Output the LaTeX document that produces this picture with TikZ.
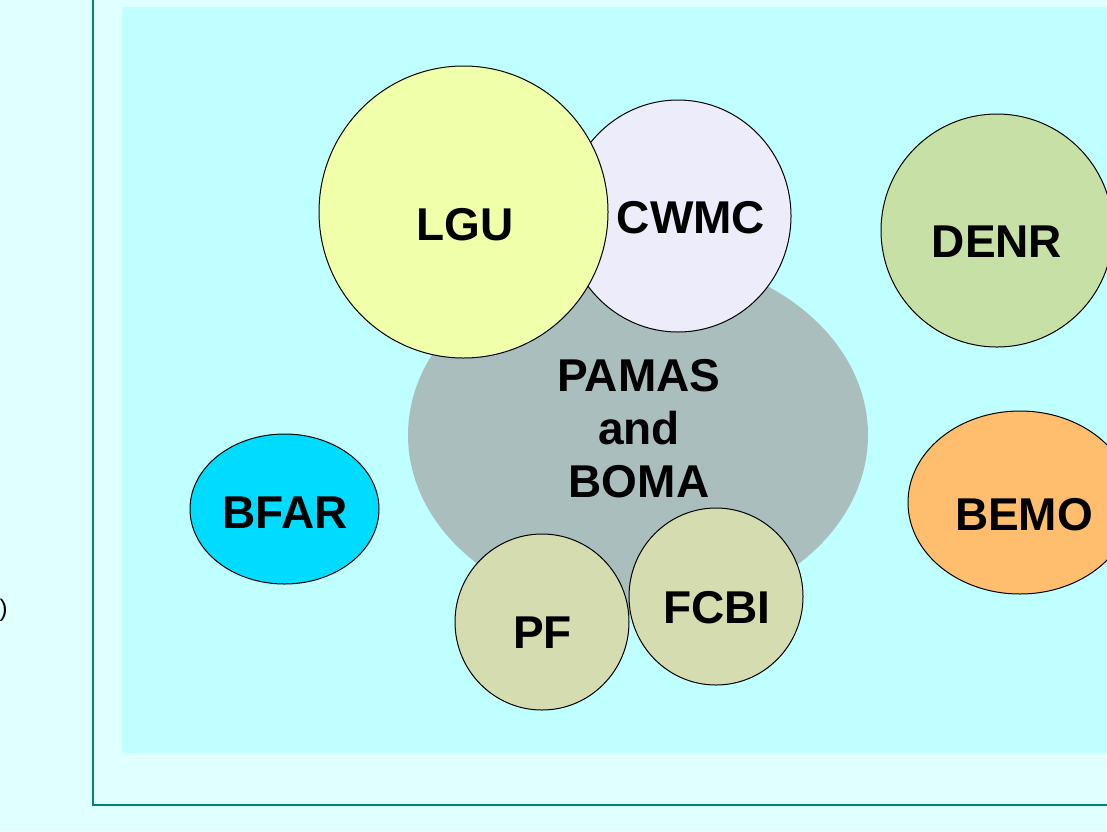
\documentclass[tikz,border=0pt]{standalone}
\usepackage{fontspec}
\setmainfont{Liberation Sans}
\usetikzlibrary{shapes.geometric}
\definecolor{outerbg}{RGB}{224,255,255}
\definecolor{innerbg}{RGB}{192,255,255}
\definecolor{frameteal}{RGB}{0,128,128}
\definecolor{lgucol}{RGB}{240,255,170}
\definecolor{cwmccol}{RGB}{236,236,250}
\definecolor{pamascol}{RGB}{170,190,190}
\definecolor{denrcol}{RGB}{198,224,166}
\definecolor{bemocol}{RGB}{255,190,110}
\definecolor{bfarcol}{RGB}{0,220,255}
\definecolor{pfcol}{RGB}{212,220,176}
\tikzset{
  blob/.style={ellipse, draw=black, line width=1pt, inner sep=0pt, outer sep=0pt},
  lab/.style={inner sep=0pt, anchor=base, font=\bfseries\fontsize{46}{53}\selectfont},
}
\begin{document}
\begin{tikzpicture}[x=1pt,y=-1pt]
  \fill[outerbg] (0,0) rectangle (1107,831);
  \useasboundingbox (0,0) rectangle (1107,831);
  \fill[innerbg] (122,7) rectangle (1107,753);
  \coordinate (ftop) at (93.2,0);
  \coordinate (fcorner) at (93.2,805);
  \coordinate (fright) at (1107,805);
  \draw[frameteal, line width=2.5pt] (ftop) -- (fcorner) -- (fright);
  \node[inner sep=0pt, anchor=center, font=\fontsize{24}{28}\selectfont] (paren) at (3.5,610) {)};
  % central body
  \node[ellipse, fill=pamascol, inner sep=0pt, minimum width=460, minimum height=360] (pamas) at (638,435) {};
  \node[blob, fill=cwmccol, minimum width=226, minimum height=232] (cwmc) at (678,216) {};
  \node[blob, fill=lgucol, minimum width=289, minimum height=292] (lgu) at (463.5,212) {};
  \node[blob, fill=pfcol, minimum width=174, minimum height=176] (pf) at (542,622) {};
  \node[blob, fill=pfcol, minimum width=174, minimum height=177] (fcbi) at (716,596.5) {};
  \node[blob, fill=denrcol, minimum width=232, minimum height=233] (denr) at (997,230.5) {};
  \node[blob, fill=bemocol, minimum width=224, minimum height=183] (bemo) at (1020,502.5) {};
  \node[blob, fill=bfarcol, minimum width=189, minimum height=150] (bfar) at (284.5,509) {};
  % labels
  \node[lab] (lgut) at (465,240) {LGU};
  \node[lab] (cwmct) at (691,233) {CWMC};
  \node[lab] (denrt) at (997,257) {DENR};
  \node[lab] (bemot) at (1024,530) {BEMO};
  \node[lab] (bfart) at (285,528) {BFAR};
  \node[lab] (pft) at (542.5,648) {PF};
  \node[lab] (fcbit) at (717,623) {FCBI};
  \node[lab, anchor=center, align=center] (pamast) at (639,429) {PAMAS\\and\\BOMA};
\end{tikzpicture}
\end{document}
